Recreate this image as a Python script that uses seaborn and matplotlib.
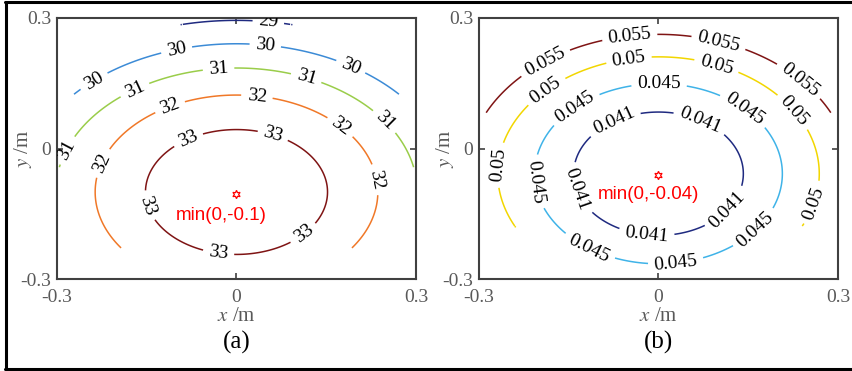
import numpy as np
import matplotlib
matplotlib.use("Agg")
import matplotlib.pyplot as plt
import seaborn as sns

sns.set_theme(style="white")
plt.rcParams['font.family'] = ['Liberation Serif', 'DejaVu Serif']
plt.rcParams['mathtext.fontset'] = 'stix'

# ---- data ----
# panel (a): contour levels and the semi-axis (y) of each level curve
levels_a = [29, 30, 31, 32, 33]
radii_a = [0.394, 0.342, 0.285, 0.221, 0.145]
center_a = (0.0, -0.10)
xstretch_a = 1.06
label_a = "min(0,-0.1)"

# panel (b)
levels_b = [0.041, 0.045, 0.05, 0.055]
radii_b = [0.143, 0.205, 0.27, 0.32]
center_b = (0.0, -0.058)
xstretch_b = 1.0
label_b = "min(0,-0.04)"

domain_radius = 0.3
ticks = [-0.3, 0, 0.3]
tick_labels = ["-0.3", "0", "0.3"]

# label positions (manual clabel)
pos_a = [(0.053, 0.288),
         (-0.1, 0.226), (0.048, 0.236), (0.19, 0.185), (-0.236, 0.15),
         (-0.03, 0.183), (-0.17, 0.135), (0.116, 0.16), (0.243, 0.056), (-0.278, -0.008),
         (0.034, 0.118), (-0.111, 0.095), (0.172, 0.047), (-0.225, -0.033), (0.231, -0.072),
         (-0.081, 0.022), (0.061, 0.031), (-0.153, -0.134), (0.114, -0.199), (-0.03, -0.24)]
pos_b = [(-0.048, 0.256), (0.1, 0.242), (-0.187, 0.192), (0.234, 0.154),
         (-0.049, 0.2), (0.096, 0.186), (-0.187, 0.131), (0.223, 0.082), (-0.267, -0.038), (0.253, -0.122),
         (0.001, 0.144), (-0.137, 0.089), (0.141, 0.086), (-0.2, -0.076), (0.158, -0.18), (-0.116, -0.229), (0.029, -0.264),
         (-0.073, 0.058), (0.068, 0.058), (-0.132, -0.092), (0.113, -0.137), (-0.02, -0.199)]

colors_a = ['#1F2A80', '#3C8BD6', '#9ACD4A', '#F07828', '#7F1414']
colors_b = ['#1F2A80', '#3FB3E8', '#F2D600', '#7F1414']


def build_field(levels, radii, center, xstretch):
    r = np.asarray(radii)
    coef = np.polyfit(r ** 2, np.asarray(levels, float), 2)
    g = np.linspace(-0.3, 0.3, 401)
    X, Y = np.meshgrid(g, g)
    rho2 = ((X - center[0]) / xstretch) ** 2 + (Y - center[1]) ** 2
    Z = np.polyval(coef, rho2)
    Z = np.ma.masked_where(np.hypot(X, Y) > domain_radius, Z)
    return X, Y, Z


fig = plt.figure(figsize=(8.52, 3.71), dpi=100)
axa = fig.add_axes([57 / 852, 1 - 279 / 371, 359 / 852, 261 / 371])
axb = fig.add_axes([479 / 852, 1 - 279 / 371, 359 / 852, 261 / 371])

grey = '#595959'
spine = '#404040'

for ax, levels, radii, center, xs, cols, pos, lab, star_y, txt_xy, tag in [
        (axa, levels_a, radii_a, center_a, xstretch_a, colors_a, pos_a, label_a, -0.105, (-0.025, -0.155), '(a)'),
        (axb, levels_b, radii_b, center_b, xstretch_b, colors_b, pos_b, label_b, -0.061, (-0.017, -0.105), '(b)')]:
    X, Y, Z = build_field(levels, radii, center, xs)
    cs = ax.contour(X, Y, Z, levels=levels, colors=cols, linewidths=1.1)
    ax.clabel(cs, inline=True, fontsize=14, colors='black', manual=pos,
              inline_spacing=6, fmt=lambda v: f"{v:g}")
    ax.plot([0], [star_y], marker=(6, 1, 0), markersize=6, markerfacecolor='none',
            markeredgecolor='red', markeredgewidth=0.9, linestyle='none')
    ax.text(txt_xy[0], txt_xy[1], lab, color='red', fontsize=13.5, ha='center', va='center',
            family=['Liberation Sans', 'DejaVu Sans'])
    ax.set_xlim(-0.3, 0.3)
    ax.set_ylim(-0.3, 0.3)
    ax.set_xticks(ticks)
    ax.set_xticklabels(tick_labels)
    ax.set_yticks(ticks)
    ax.set_yticklabels(tick_labels)
    ax.tick_params(direction='in', length=4, width=1.2, color=spine, labelcolor=grey,
                   labelsize=14, top=True, right=True, bottom=True, left=True)
    ax.tick_params(axis='x', pad=7)
    ax.tick_params(axis='y', pad=4)
    for s in ax.spines.values():
        s.set_visible(True)
        s.set_color(spine)
        s.set_linewidth(1.5)
    ax.set_xlabel(r'$x$ /m', color=grey, fontsize=15, labelpad=1)
    ax.set_ylabel(r'$y$ /m', color=grey, fontsize=15, labelpad=-10)
    ax.text(0.5, -0.245, tag, transform=ax.transAxes, ha='center', va='center',
            fontsize=18, color='black')

# outer frame (left, top, bottom)
fig.add_artist(plt.Line2D([6 / 852, 6 / 852], [1 - 1.5 / 371, 1 - 368.5 / 371],
                          transform=fig.transFigure, color='black', lw=2.2))
fig.add_artist(plt.Line2D([5 / 852, 1.0], [1 - 1.5 / 371, 1 - 1.5 / 371],
                          transform=fig.transFigure, color='black', lw=2.2))
fig.add_artist(plt.Line2D([5 / 852, 1.0], [1 - 368.5 / 371, 1 - 368.5 / 371],
                          transform=fig.transFigure, color='black', lw=2.2))

fig.savefig('out.png', dpi=100)
